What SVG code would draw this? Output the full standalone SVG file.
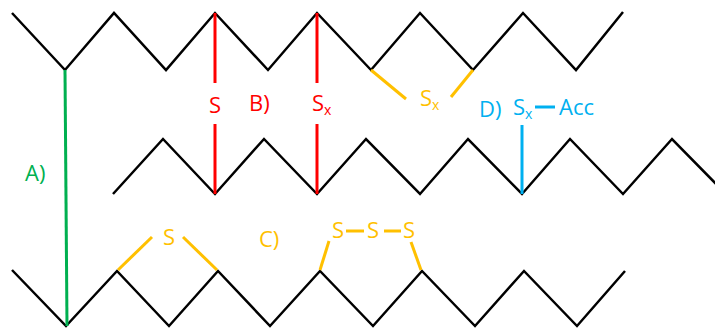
<svg xmlns="http://www.w3.org/2000/svg" width="715" height="329" viewBox="0 0 715 329">
<style>
.chain{fill:none;stroke:#000;stroke-width:2.5;stroke-linejoin:miter}
.g{stroke:#00b050;stroke-width:3;fill:none}
.r{stroke:#ff0000;stroke-width:3;fill:none}
.o{stroke:#ffc000;stroke-width:3;fill:none}
.b{stroke:#00b0f0;stroke-width:3;fill:none}
text{font-family:"Open Sans","Noto Sans",sans-serif;font-size:22px}
.sub{font-size:14px}
</style>
<rect width="715" height="329" fill="#fff"/>
<g id="chain-top"><polyline class="chain" points="12,13 65,70 114,13 166,70 215,13 268,70 317,13 371,70 420,13 473,70 523,13 576,70 623,12"/></g>
<g id="chain-middle"><polyline class="chain" points="113,194 163,139 215,194 264,139 317,194 366,139 420,194 468,139 522,194 570,139 623,194 672,139 722,190"/></g>
<g id="chain-bottom"><polyline class="chain" points="12,270 66,326 117,271 169,326 218,271 270,326 320,271 373,326 422,271 475,326 524,271 577,326 625,271"/></g>
<g id="connectors">
<line class="g" x1="65" y1="70" x2="67" y2="326"/>
<line class="r" x1="215" y1="13" x2="215" y2="83"/>
<line class="r" x1="215" y1="124" x2="215" y2="194"/>
<line class="r" x1="317" y1="13" x2="317" y2="83"/>
<line class="r" x1="317" y1="124" x2="317" y2="194"/>
<line class="o" x1="371" y1="70" x2="406" y2="99"/>
<line class="o" x1="473" y1="70" x2="451" y2="97"/>
<line class="b" x1="522" y1="125" x2="522" y2="194"/>
<line class="b" x1="535" y1="107" x2="555" y2="107"/>
<line class="o" x1="118" y1="270" x2="152" y2="237"/>
<line class="o" x1="183" y1="237" x2="217" y2="270"/>
<line class="o" x1="320" y1="270" x2="329" y2="241"/>
<line class="o" x1="346" y1="231" x2="364" y2="231"/>
<line class="o" x1="384" y1="231" x2="401" y2="231"/>
<line class="o" x1="411" y1="242" x2="421" y2="270"/>
</g>
<g id="labels">
<text x="25" y="181" fill="#00b050">A)</text>
<text x="209" y="113" fill="#ff0000">S</text>
<text x="249" y="111" fill="#ff0000">B)</text>
<text x="312" y="111" fill="#ff0000">S<tspan class="sub" dy="4">x</tspan></text>
<text x="420" y="106" fill="#ffc000">S<tspan class="sub" dy="4">x</tspan></text>
<text x="479" y="117" fill="#00b0f0">D)</text>
<text x="513" y="115" fill="#00b0f0">S<tspan class="sub" dy="4">x</tspan></text>
<text x="559" y="115" fill="#00b0f0">Acc</text>
<text x="163" y="245" fill="#ffc000">S</text>
<text x="259" y="247" fill="#ffc000">C)</text>
<text x="332" y="238" fill="#ffc000">S</text>
<text x="367" y="238" fill="#ffc000">S</text>
<text x="403" y="238" fill="#ffc000">S</text>
</g>
</svg>
